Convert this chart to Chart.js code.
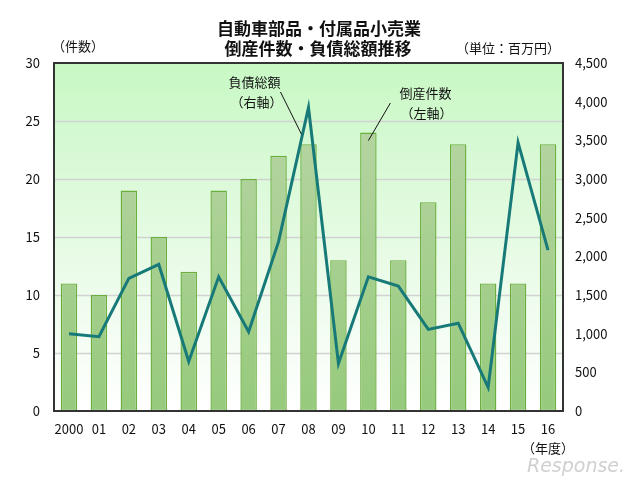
<!DOCTYPE html>
<html lang="ja">
<head>
<meta charset="utf-8">
<script src="https://cdn.jsdelivr.net/npm/chart.js@4.4.1/dist/chart.umd.min.js"></script>
<style>
  html, body { margin: 0; padding: 0; background: #ffffff; }
  #wrap { width: 640px; height: 486px; position: relative; }
</style>
</head>
<body>
<div id="wrap"><canvas id="chart" width="640" height="486"></canvas></div>
<script>
// =========================
// データ
// =========================
const years = ["2000", "01", "02", "03", "04", "05", "06", "07", "08",
  "09", "10", "11", "12", "13", "14", "15", "16"];
const bankruptcies = [11, 10, 19, 15, 12, 19, 20, 22, 23, 13, 24, 13, 18, 23, 11, 11, 23];
const liabilities = [1000, 960, 1715, 1895, 640, 1735, 1025, 2190, 3925,
  615, 1735, 1615, 1055, 1135, 305, 3470, 2080];
const leftTicks = [0, 5, 10, 15, 20, 25, 30];
const rightTicks = [0, 500, 1000, 1500, 2000, 2500, 3000, 3500, 4000, 4500];

const FONT = "'Noto Sans CJK JP', 'Noto Sans', sans-serif";

// =========================
// 背景・グリッド
// =========================
const backgroundPlugin = {
  id: "plotBackground",
  beforeDatasetsDraw(chart) {
    const { ctx, chartArea } = chart;
    const { left, top, right, bottom } = chartArea;
    const g = ctx.createLinearGradient(0, top, 0, bottom);
    g.addColorStop(0, "#c8f8c4");
    g.addColorStop(0.55, "#e8fbe6");
    g.addColorStop(1, "#ffffff");
    ctx.save();
    ctx.fillStyle = g;
    ctx.fillRect(left, top, right - left, bottom - top);

    const y = chart.scales.y;
    ctx.strokeStyle = "#d2d2d2";
    ctx.lineWidth = 1.5;
    [5, 10, 15, 20, 25].forEach((v) => {
      const py = Math.round(y.getPixelForValue(v)) + 0.5;
      ctx.beginPath();
      ctx.moveTo(left, py);
      ctx.lineTo(right, py);
      ctx.stroke();
    });
    ctx.restore();
  },
};

// =========================
// 枠・注記・タイトル
// =========================
const framePlugin = {
  id: "frameAndNotes",
  afterDatasetsDraw(chart) {
    const { ctx, chartArea, scales } = chart;
    const { left, top, right, bottom } = chartArea;
    ctx.save();
    ctx.strokeStyle = "#333333";
    ctx.lineWidth = 2;
    ctx.strokeRect(left, top, right - left, bottom - top);

    const x = scales.x;
    const yL = scales.y;
    const yR = scales.y1;
    ctx.fillStyle = "#111111";
    ctx.textAlign = "center";
    ctx.textBaseline = "middle";
    ctx.font = `13px ${FONT}`;

    const p07 = x.getPixelForValue(7);
    const p08 = x.getPixelForValue(8);
    ctx.fillText("負債総額", p08 - 54, top + 19);
    ctx.fillText("（右軸）", p08 - 52, top + 39);

    const p10 = x.getPixelForValue(10);
    ctx.fillText("倒産件数", p10 + 57, top + 30);
    ctx.fillText("（左軸）", p10 + 58, top + 50);

    // 引き出し線
    ctx.strokeStyle = "#111111";
    ctx.lineWidth = 1;
    const lx = p07 + (p08 - p07) * 0.8;
    const ly = yR.getPixelForValue(liabilities[7] + (liabilities[8] - liabilities[7]) * 0.8);
    ctx.beginPath();
    ctx.moveTo(p08 - 28, top + 29);
    ctx.lineTo(lx - 1, ly);
    ctx.stroke();

    ctx.beginPath();
    ctx.moveTo(p10 + 22, top + 40);
    ctx.lineTo(p10, yL.getPixelForValue(bankruptcies[10]) + 8);
    ctx.stroke();
    ctx.restore();
  },
  afterDraw(chart) {
    const { ctx } = chart;
    ctx.save();
    ctx.fillStyle = "#111111";
    ctx.textAlign = "center";
    ctx.textBaseline = "middle";
    ctx.font = `bold 17px ${FONT}`;
    ctx.fillText("自動車部品・付属品小売業", 319, 29);
    ctx.fillText("倒産件数・負債総額推移", 318, 49);
    ctx.font = `13px ${FONT}`;
    ctx.fillText("（件数）", 78, 46);
    ctx.fillText("（単位：百万円）", 508, 48);
    ctx.fillText("（年度）", 548, 448);
    ctx.fillStyle = "#d0d0d0";
    ctx.font = `italic 19px 'DejaVu Sans', sans-serif`;
    ctx.fillText("Response.", 576, 467);
    ctx.restore();
  },
};

// =========================
// バーのグラデーション
// =========================
function barGradient(context) {
  const { ctx, chartArea } = context.chart;
  if (!chartArea) return "#a8cf90";
  const g = ctx.createLinearGradient(0, chartArea.top, 0, chartArea.bottom);
  g.addColorStop(0, "#bcd6aa");
  g.addColorStop(1, "#96ca7c");
  return g;
}

// =========================
// チャート
// =========================
new Chart(document.getElementById("chart"), {
  data: {
    labels: years,
    datasets: [
      {
        type: "line",
        label: "負債総額",
        data: liabilities,
        yAxisID: "y1",
        borderColor: "#177a78",
        borderWidth: 3,
        pointRadius: 0,
        tension: 0,
        order: 0,
      },
      {
        type: "bar",
        label: "倒産件数",
        data: bankruptcies,
        yAxisID: "y",
        backgroundColor: barGradient,
        borderColor: "#6aae3e",
        borderWidth: 1.4,
        borderSkipped: false,
        barPercentage: 0.55,
        categoryPercentage: 1,
        order: 1,
      },
    ],
  },
  options: {
    responsive: false,
    animation: false,
    layout: { padding: { top: 63, left: 0, right: 0, bottom: 0 } },
    plugins: {
      legend: { display: false },
      tooltip: { enabled: false },
    },
    scales: {
      x: {
        grid: { display: false, drawTicks: false },
        border: { display: false },
        ticks: {
          color: "#111111",
          font: { family: FONT, size: 13 },
          padding: 10,
          maxRotation: 0,
          autoSkip: false,
        },
        afterFit(scale) { scale.height = 75; },
      },
      y: {
        position: "left",
        min: 0,
        max: 30,
        afterBuildTicks(scale) { scale.ticks = leftTicks.map((v) => ({ value: v })); },
        grid: { display: false, drawTicks: false },
        border: { display: false },
        ticks: {
          color: "#111111",
          font: { family: FONT, size: 13 },
          padding: 14,
        },
        afterFit(scale) { scale.width = 54; },
      },
      y1: {
        position: "right",
        min: 0,
        max: 4500,
        afterBuildTicks(scale) { scale.ticks = rightTicks.map((v) => ({ value: v })); },
        grid: { display: false, drawTicks: false },
        border: { display: false },
        ticks: {
          color: "#111111",
          font: { family: FONT, size: 13 },
          padding: 12,
          callback: (v) => v.toLocaleString("en-US"),
        },
        afterFit(scale) { scale.width = 77; },
      },
    },
  },
  plugins: [backgroundPlugin, framePlugin],
});
</script>
</body>
</html>
